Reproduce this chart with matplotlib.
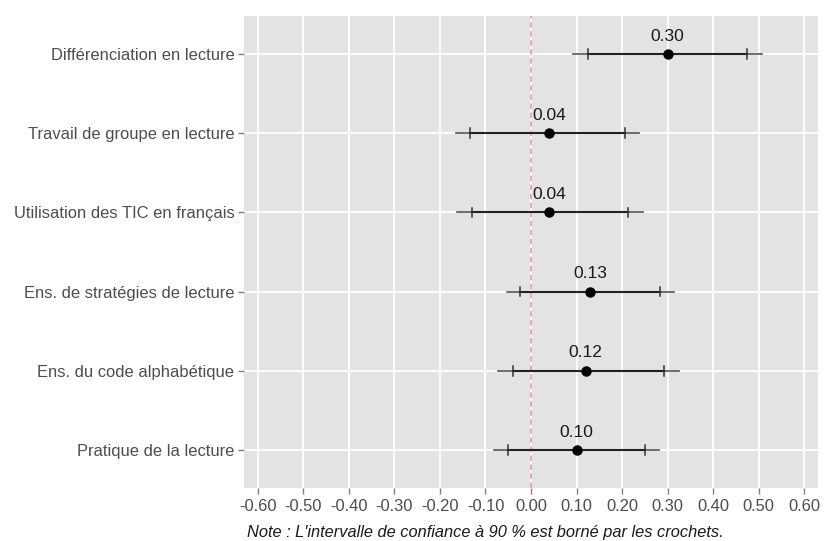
import matplotlib.pyplot as plt

# Pratiques pédagogiques et effets estimés (IC 95 % et IC 90 %)
labels = ["Différenciation en lecture", "Travail de groupe en lecture",
          "Utilisation des TIC en français", "Ens. de stratégies de lecture",
          "Ens. du code alphabétique", "Pratique de la lecture"]
effets = [0.30, 0.04, 0.04, 0.13, 0.12, 0.10]
ic95_bas = [0.092, -0.165, -0.163, -0.053, -0.072, -0.081]
ic95_haut = [0.507, 0.238, 0.245, 0.313, 0.324, 0.281]
ic90_bas = [0.126, -0.134, -0.130, -0.024, -0.040, -0.050]
ic90_haut = [0.474, 0.207, 0.212, 0.284, 0.292, 0.251]
xticks = [-0.6, -0.5, -0.4, -0.3, -0.2, -0.1, 0.0, 0.1, 0.2, 0.3, 0.4, 0.5, 0.6]

plt.rcParams['font.family'] = ['Liberation Sans', 'DejaVu Sans']

fig = plt.figure(figsize=(8.24, 5.41), dpi=100)
ax = fig.add_axes([244/824, 1-488/541, 574/824, 472/541])
ax.set_facecolor('#E3E3E3')

n = len(labels)
ys = [n - i for i in range(n)]

ax.set_xlim(-0.63, 0.63)
ax.set_ylim(0.52, 6.48)
ax.set_xticks(xticks)
ax.set_xticklabels(['%.2f' % t for t in xticks])
ax.set_yticks(ys)
ax.set_yticklabels(labels)
ax.grid(True, color='white', linewidth=1.3)
ax.set_axisbelow(True)
for s in ax.spines.values():
    s.set_visible(False)
ax.tick_params(axis='both', colors='#7F7F7F', labelcolor='#4D4D4D',
               labelsize=11.9, length=4, width=1)
ax.tick_params(axis='x', pad=4)
ax.tick_params(axis='y', pad=3)

ax.axvline(0, color='#F2A0A0', linestyle=(0, (3, 2)), linewidth=1.3, zorder=1)

for y, e, l95, h95, l90, h90 in zip(ys, effets, ic95_bas, ic95_haut, ic90_bas, ic90_haut):
    ax.plot([l95, h95], [y, y], color='#555555', linewidth=1.2, zorder=2)
    ax.plot([l90, h90], [y, y], color='#222222', linewidth=1.5, zorder=3)
    for b in (l90, h90):
        ax.plot([b, b], [y - 0.06, y + 0.06], color='#333333', linewidth=1.1, zorder=3)
    ax.plot(e, y, 'o', color='black', markersize=6.5, zorder=4)
    ax.text(e, y + 0.13, '%.2f' % e, ha='center', va='bottom', fontsize=12.5,
            color='#1A1A1A', zorder=5)

fig.text(485/824, 1-533/541, "Note : L'intervalle de confiance à 90 % est borné par les crochets.",
         ha='center', va='center', fontsize=11.8, style='italic', color='#1A1A1A')

fig.savefig('out.png', dpi=100)
